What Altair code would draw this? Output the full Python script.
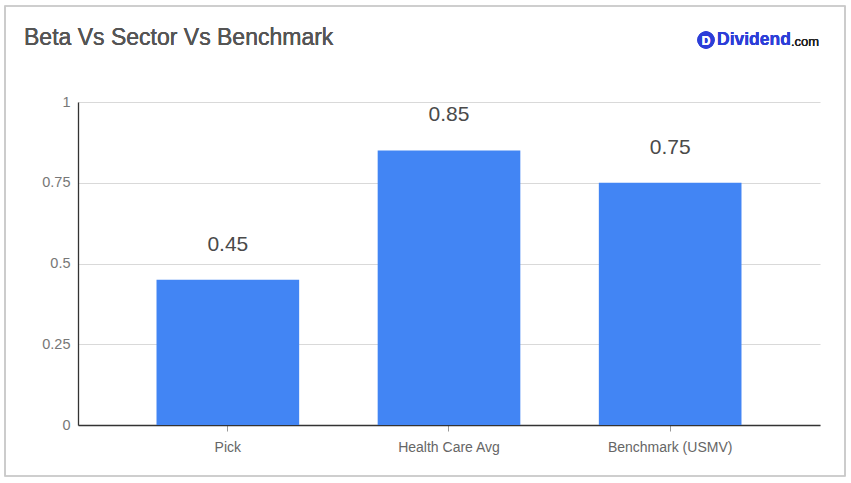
import altair as alt
import pandas as pd

categories = ["Pick", "Health Care Avg", "Benchmark (USMV)"]
betas = [0.45, 0.85, 0.75]
y_ticks = [0, 0.25, 0.5, 0.75, 1]

df = pd.DataFrame({"name": categories, "beta": betas})

W, H = 742, 323
LEFT, TOP = 78, 102

x_enc = alt.X(
    "name:N", sort=categories, title=None,
    scale=alt.Scale(paddingInner=0.355, paddingOuter=0.355),
    axis=alt.Axis(labelAngle=0, labelColor="#666", labelFontSize=14,
                  labelFont="Liberation Sans", labelPadding=9,
                  tickColor="#999", tickSize=6, domainColor="#333",
                  domainWidth=1.3, grid=False),
)
y_enc = alt.Y(
    "beta:Q", title=None,
    scale=alt.Scale(domain=[0, 1], nice=False),
    axis=alt.Axis(values=y_ticks, format=".2~f", labelColor="#777",
                  labelFontSize=14.5, labelFont="Liberation Sans",
                  labelPadding=8, ticks=False, domainColor="#333",
                  domainWidth=1.3, gridColor="#d9d9d9", gridWidth=1),
)

bars = alt.Chart(df).mark_bar(color="#4285F4").encode(x=x_enc, y=y_enc)

values = alt.Chart(df).mark_text(
    dy=-25, fontSize=21, color="#4a4a4a", font="Liberation Sans",
    fontWeight="normal", baseline="bottom"
).encode(x=alt.X("name:N", sort=categories), y="beta:Q",
         text=alt.Text("beta:Q", format=".2f"))

# outer frame and heading
frame = alt.Chart(df).mark_rect(
    fill=None, stroke="#c8c8c8", strokeWidth=1.2
).encode(x=alt.value(5 - LEFT), x2=alt.value(845 - LEFT),
         y=alt.value(6 - TOP), y2=alt.value(476 - TOP))

title = alt.Chart(df).mark_text(
    text="Beta Vs Sector Vs Benchmark", align="left", baseline="middle",
    fontSize=23, fontWeight="normal", color="#555", font="Liberation Sans"
).encode(x=alt.value(24 - LEFT), y=alt.value(38 - TOP))

# brand mark
logo_dot = alt.Chart(df).mark_point(
    shape="circle", filled=True, size=300, color="#2c3ed8", opacity=1
).encode(x=alt.value(706 - LEFT), y=alt.value(40 - TOP))
logo_d = alt.Chart(df).mark_text(
    text="D", fontSize=12, fontWeight="bold", color="white",
    font="Liberation Sans", align="center", baseline="middle"
).encode(x=alt.value(706 - LEFT), y=alt.value(40.5 - TOP))
logo_name = alt.Chart(df).mark_text(
    text="Dividend", fontSize=17.5, fontWeight="bold", color="#2c3ed8",
    font="Liberation Sans", align="left", baseline="middle"
).encode(x=alt.value(717 - LEFT), y=alt.value(40 - TOP))
logo_com = alt.Chart(df).mark_text(
    text=".com", fontSize=13, fontWeight="normal", color="#222",
    font="Liberation Sans", align="left", baseline="middle"
).encode(x=alt.value(791 - LEFT), y=alt.value(42 - TOP))

chart = alt.layer(
    frame, bars, values, title, logo_dot, logo_d, logo_name, logo_com
).properties(
    width=W, height=H,
    autosize=alt.AutoSizeParams(type="none"),
    padding={"left": LEFT, "top": TOP, "right": 851 - LEFT - W, "bottom": 483 - TOP - H},
    background="white",
).configure_view(stroke=None)

chart.save("out.html", embed_options={"renderer": "svg", "actions": False})
